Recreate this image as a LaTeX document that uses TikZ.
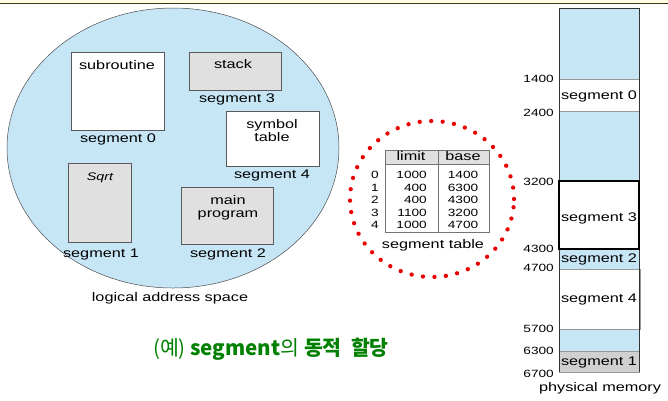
\documentclass[tikz,border=0pt]{standalone}
\usepackage{fontspec}
\setmainfont{Liberation Sans}[FakeStretch=1.3]
\newfontfamily\krfont{Noto Sans CJK KR}
\definecolor{lblue}{RGB}{198,230,246}
\definecolor{boxgray}{RGB}{224,224,224}
\definecolor{memgray}{RGB}{208,208,208}
\definecolor{topfill}{RGB}{255,253,225}
\definecolor{topline}{RGB}{60,55,20}
\definecolor{titlegreen}{RGB}{0,128,0}
\definecolor{dotred}{RGB}{235,0,0}
\begin{document}
\begin{tikzpicture}[x=1pt,y=-1pt,
  lbl/.style={inner sep=0pt, font=\fontsize{12.5}{13}\selectfont, text height=9pt, text depth=2.6pt, anchor=center},
  num/.style={inner sep=0pt, font=\fontsize{10.5}{11}\selectfont, text height=7.5pt, text depth=0pt},
  segbox/.style={draw=black!65, line width=0.5pt},
  memline/.style={draw=black!40, line width=0.6pt}]
\useasboundingbox (0,0) rectangle (668,400);
% top strip
\fill[topfill] (0,0) rectangle (668,3);
\draw[topline, line width=0.9pt] (0,3) -- (668,3);
% logical address space
\draw[fill=lblue, draw=black!70, line width=0.5pt] (173,148) ellipse [x radius=166pt, y radius=140pt];
\draw[segbox, fill=white] (71,52) rectangle (164,130);
\node[lbl] (sub) at (117,66) {subroutine};
\node[lbl] (s0) at (118,139) {segment 0};
\draw[segbox, fill=boxgray] (189,52) rectangle (281,90);
\node[lbl] (stk) at (233,65) {stack};
\node[lbl] (s3) at (237,99) {segment 3};
\draw[segbox, fill=white] (226,111) rectangle (319,166);
\node[lbl, align=center, text height=, text depth=] (sym) at (272,131) {symbol\\table};
\node[lbl] (s4) at (272,175) {segment 4};
\draw[segbox, fill=boxgray] (68,163) rectangle (131,242);
\node[lbl, font=\fontsize{11}{12}\itshape] (sqrt) at (100,177) {Sqrt};
\node[lbl] (s1) at (101,254) {segment 1};
\draw[segbox, fill=boxgray] (181,187) rectangle (273,244);
\node[lbl, align=center, text height=, text depth=] (mp) at (228,208) {main\\program};
\node[lbl] (s2) at (228,254) {segment 2};
\node[lbl] (las) at (170,298) {logical address space};
% segment table
\draw[dotred, line width=4.3pt, line cap=round, dash pattern=on 0pt off 11.5pt] (432,199) ellipse [x radius=82pt, y radius=78pt];
\fill[boxgray] (385,150) rectangle (489,164);
\draw[black!55, line width=0.5pt] (385,150) rectangle (489,232);
\draw[black!55, line width=0.5pt] (385,164) -- (489,164);
\draw[black!55, line width=0.5pt] (438,150) -- (438,232);
\node[lbl] (hl) at (411,157) {limit};
\node[lbl] (hb) at (463,157) {base};
\foreach \i/\l/\b/\y in {0/1000/1400/175, 1/400/6300/188, 2/400/4300/200, 3/1100/3200/213, 4/1000/4700/225}{
  \node[num] (ti\i) at (375,\y) {\i};
  \node[num, anchor=east] (tl\i) at (427,\y) {\l};
  \node[num] (tb\i) at (463,\y) {\b};
}
\node[lbl] (st) at (433,245) {segment table};
% physical memory
\fill[lblue] (559,8) rectangle (639,372);
\fill[white] (559,79) rectangle (639,111);
\draw[memline] (559,79) -- (639,79);
\draw[memline] (559,111) -- (639,111);
\draw[memline, fill=white] (559,269) rectangle (640,329);
\draw[memline, fill=memgray] (559,351) rectangle (639,372);
\draw[black!80, line width=0.6pt] (559,372) -- (559,8) -- (639,8) -- (639,372);
\draw[black, line width=1.3pt, fill=white] (559,181) rectangle (639,249);
\node[lbl] (m0) at (599,96) {segment 0};
\node[lbl] (m3) at (599,218) {segment 3};
\node[lbl] (m2) at (599,259) {segment 2};
\node[lbl] (m4) at (599,299) {segment 4};
\node[lbl] (m1) at (599,362) {segment 1};
\foreach \v/\y in {1400/79, 2400/113, 3200/182, 4300/249, 4700/268, 5700/329, 6300/351, 6700/374}{
  \node[num, anchor=east] (a\v) at (554,\y) {\v};
}
\node[lbl] (pm) at (600,388) {physical memory};
% title
\node[inner sep=0pt, text=titlegreen, font=\krfont\fontsize{20.5}{22}\selectfont] (title) at (271,349) {(예) \textbf{segment}의 \textbf{동적\ \ 할당}};
\end{tikzpicture}
\end{document}
